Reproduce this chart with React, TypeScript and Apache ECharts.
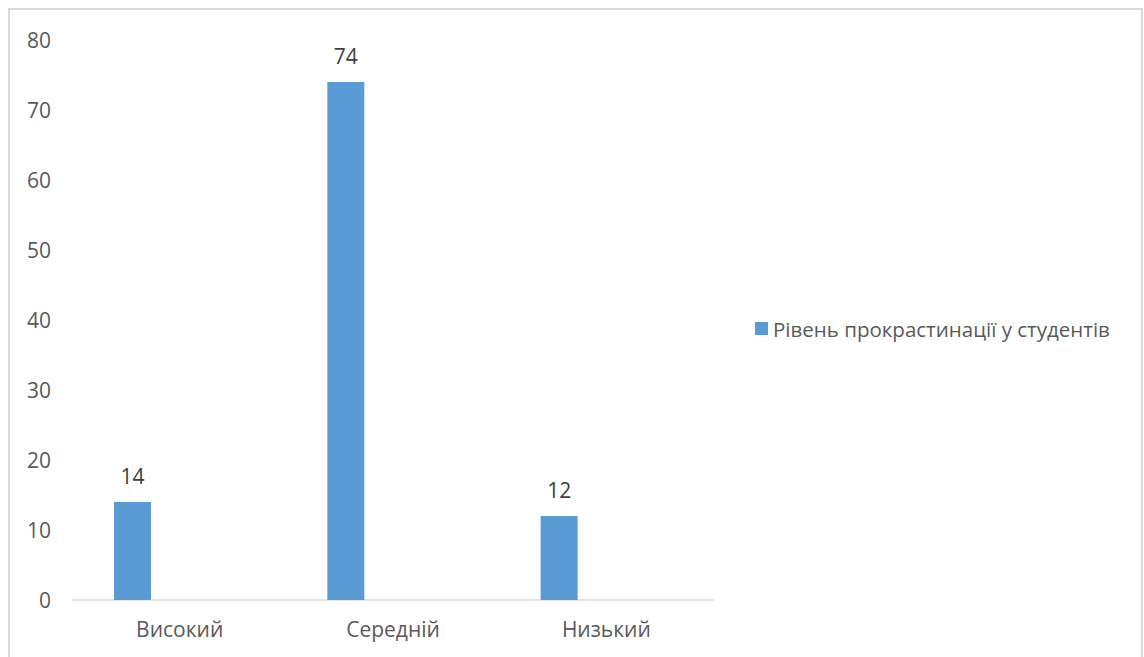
import React, { useEffect, useRef } from "react";
import * as echarts from "echarts";

const categories = ["Високий", "Середній", "Низький"];
const seriesName = "Рівень прокрастинації у студентів";
const values = [14, 74, 12];
const yTicks = [0, 10, 20, 30, 40, 50, 60, 70, 80];

const FONT = "'Open Sans', 'Noto Sans', sans-serif";

export default function App() {
  const ref = useRef<HTMLDivElement>(null);
  useEffect(() => {
    if (!ref.current) return;
    const chart = echarts.init(ref.current, null, { renderer: "svg" });
    chart.setOption({
      animation: false,
      backgroundColor: "#ffffff",
      textStyle: { fontFamily: FONT },
      graphic: [
        {
          type: "rect",
          shape: { x: 9, y: 9, width: 1133, height: 700 },
          style: { fill: "none", stroke: "#d9d9d9", lineWidth: 2 },
          silent: true,
        },
      ],
      grid: { left: 73, right: 431, top: 40, bottom: 57, containLabel: false },
      legend: {
        data: [seriesName],
        orient: "vertical",
        left: 750,
        top: "middle",
        itemWidth: 13,
        itemHeight: 13,
        itemGap: 8,
        icon: "rect",
        textStyle: { fontFamily: FONT, fontSize: 20.5, color: "#595959" },
      },
      xAxis: {
        type: "category",
        data: categories,
        axisLine: { lineStyle: { color: "#d9d9d9", width: 1.5 } },
        axisTick: { show: false },
        axisLabel: { fontFamily: FONT, fontSize: 21, color: "#595959", margin: 18 },
      },
      yAxis: {
        type: "value",
        min: yTicks[0],
        max: yTicks[yTicks.length - 1],
        interval: 10,
        axisLine: { show: false },
        axisTick: { show: false },
        splitLine: { show: false },
        axisLabel: { fontFamily: FONT, fontSize: 21, color: "#595959", margin: 22 },
      },
      series: [
        {
          name: seriesName,
          type: "bar",
          data: values,
          barWidth: 37,
          barGap: "155%",
          itemStyle: { color: "#5b9bd5" },
          label: {
            show: true,
            position: "top",
            distance: 16,
            fontFamily: FONT,
            fontSize: 21,
            color: "#404040",
          },
        },
        {
          name: "_pad",
          type: "bar",
          data: categories.map(() => null),
          barWidth: 37,
          barGap: "155%",
        },
      ],
    });
    return () => chart.dispose();
  }, []);
  return (
    <div
      ref={ref}
      style={{ position: "fixed", left: 0, top: 0, width: 1144, height: 657 }}
    />
  );
}
